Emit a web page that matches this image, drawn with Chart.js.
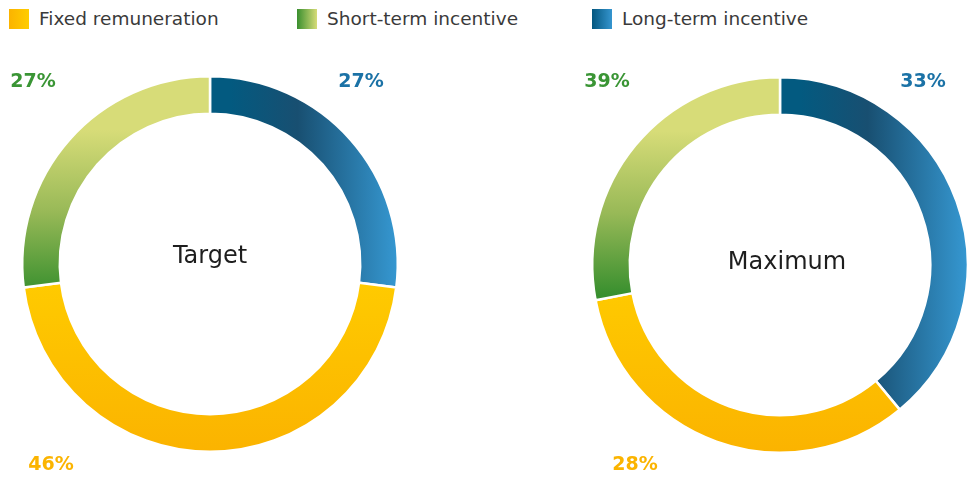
<!DOCTYPE html>
<html>
<head>
<meta charset="utf-8">
<script src="https://cdn.jsdelivr.net/npm/chart.js@4.4.1/dist/chart.umd.min.js"></script>
<style>
  html,body{margin:0;padding:0;background:#fff;}
  body{width:973px;height:477px;position:relative;overflow:hidden;font-family:"DejaVu Sans",sans-serif;}
  .legend{position:absolute;top:9px;left:0;height:20px;}
  .legend .item{position:absolute;top:0;height:20px;display:flex;align-items:center;white-space:nowrap;}
  .legend .sw{width:20px;height:20px;margin-right:10px;}
  .legend .tx{font-size:18.5px;color:#3a3a3a;line-height:20px;}
  .box{position:absolute;top:60px;height:417px;}
</style>
</head>
<body>
<div class="legend" id="legend"></div>
<div class="box" style="left:0;width:420px;"><canvas id="target"></canvas></div>
<div class="box" style="left:570px;width:403px;"><canvas id="maximum"></canvas></div>
<script>
// data
const categories = ['Long-term incentive', 'Fixed remuneration', 'Short-term incentive'];
const targetValues = [27, 46, 27];
const maximumValues = [39, 33, 28];
const targetLabels = ['27%', '46%', '27%'];
const maximumLabels = ['33%', '28%', '39%'];
const chartTitles = ['Target', 'Maximum'];
const labelColors = ['#1b72a6', '#fbb400', '#3a9535'];
const legendOrder = [1, 2, 0];
const legendSwatches = [
  'linear-gradient(to right,#04577f,#3595cf)',
  'linear-gradient(to right,#fbb300,#ffcd00)',
  'linear-gradient(to right,#3a8f2f,#d6dc78)'
];
const legendX = [9, 297, 592];

// legend
const lg = document.getElementById('legend');
legendOrder.forEach((ci, k) => {
  const d = document.createElement('div');
  d.className = 'item';
  d.style.left = legendX[k] + 'px';
  d.innerHTML = `<span class="sw" style="background:${legendSwatches[ci]}"></span><span class="tx">${categories[ci]}</span>`;
  lg.appendChild(d);
});

function sliceFill(c) {
  const chart = c.chart, a = chart.chartArea;
  if (!a) return '#ccc';
  const ctx = chart.ctx;
  const cx = (a.left + a.right) / 2, cy = (a.top + a.bottom) / 2;
  let g;
  if (c.dataIndex === 0) {
    g = ctx.createLinearGradient(cx + 20, 0, a.right, 0);
    g.addColorStop(0, '#035a80');
    g.addColorStop(0.4, '#184f71');
    g.addColorStop(1, '#3699d3');
  } else if (c.dataIndex === 1) {
    g = ctx.createLinearGradient(0, cy, 0, a.bottom);
    g.addColorStop(0, '#ffcd00');
    g.addColorStop(1, '#fbb300');
  } else {
    g = ctx.createLinearGradient(0, a.top + 55, 0, cy + 30);
    g.addColorStop(0, '#d7dc78');
    g.addColorStop(0.5, '#98b957');
    g.addColorStop(1, '#388f2e');
  }
  return g;
}

// label offsets relative to the centre (layout)
const labelPos = {
  target: [[151, -182], [-159, 201], [-177, -182]],
  maximum: [[143, -183], [-145, 200], [-173, -183]]
};
const titleOffset = { target: [0, -7], maximum: [7, -2] };

const extras = {
  id: 'extras',
  afterDraw(chart) {
    const o = chart.options.plugins.extras;
    const a = chart.chartArea, ctx = chart.ctx;
    const cx = (a.left + a.right) / 2, cy = (a.top + a.bottom) / 2;
    ctx.save();
    ctx.textAlign = 'center';
    ctx.textBaseline = 'middle';
    ctx.font = '24px "DejaVu Sans"';
    ctx.fillStyle = '#1e1e1e';
    ctx.fillText(o.title, cx + o.titleOff[0], cy + o.titleOff[1]);
    ctx.font = 'bold 19px "DejaVu Sans"';
    o.labels.forEach((t, i) => {
      ctx.fillStyle = labelColors[i];
      ctx.fillText(t, cx + o.pos[i][0], cy + o.pos[i][1]);
    });
    ctx.restore();
  }
};

function makeChart(id, values, labels, title, padding) {
  return new Chart(document.getElementById(id), {
    type: 'doughnut',
    data: {
      labels: categories,
      datasets: [{
        data: values,
        backgroundColor: sliceFill,
        borderColor: '#ffffff',
        borderWidth: 2.5,
        hoverOffset: 0
      }]
    },
    options: {
      responsive: true,
      maintainAspectRatio: false,
      animation: false,
      cutout: '80%',
      layout: { padding },
      plugins: {
        legend: { display: false },
        tooltip: { enabled: false },
        extras: { title, labels, pos: labelPos[id], titleOff: titleOffset[id] }
      }
    },
    plugins: [extras]
  });
}

makeChart('target', targetValues, targetLabels, chartTitles[0], { left: 21, top: 15, right: 21, bottom: 24 });
makeChart('maximum', maximumValues, maximumLabels, chartTitles[1], { left: 21, top: 16, right: 4, bottom: 23 });
</script>
</body>
</html>
